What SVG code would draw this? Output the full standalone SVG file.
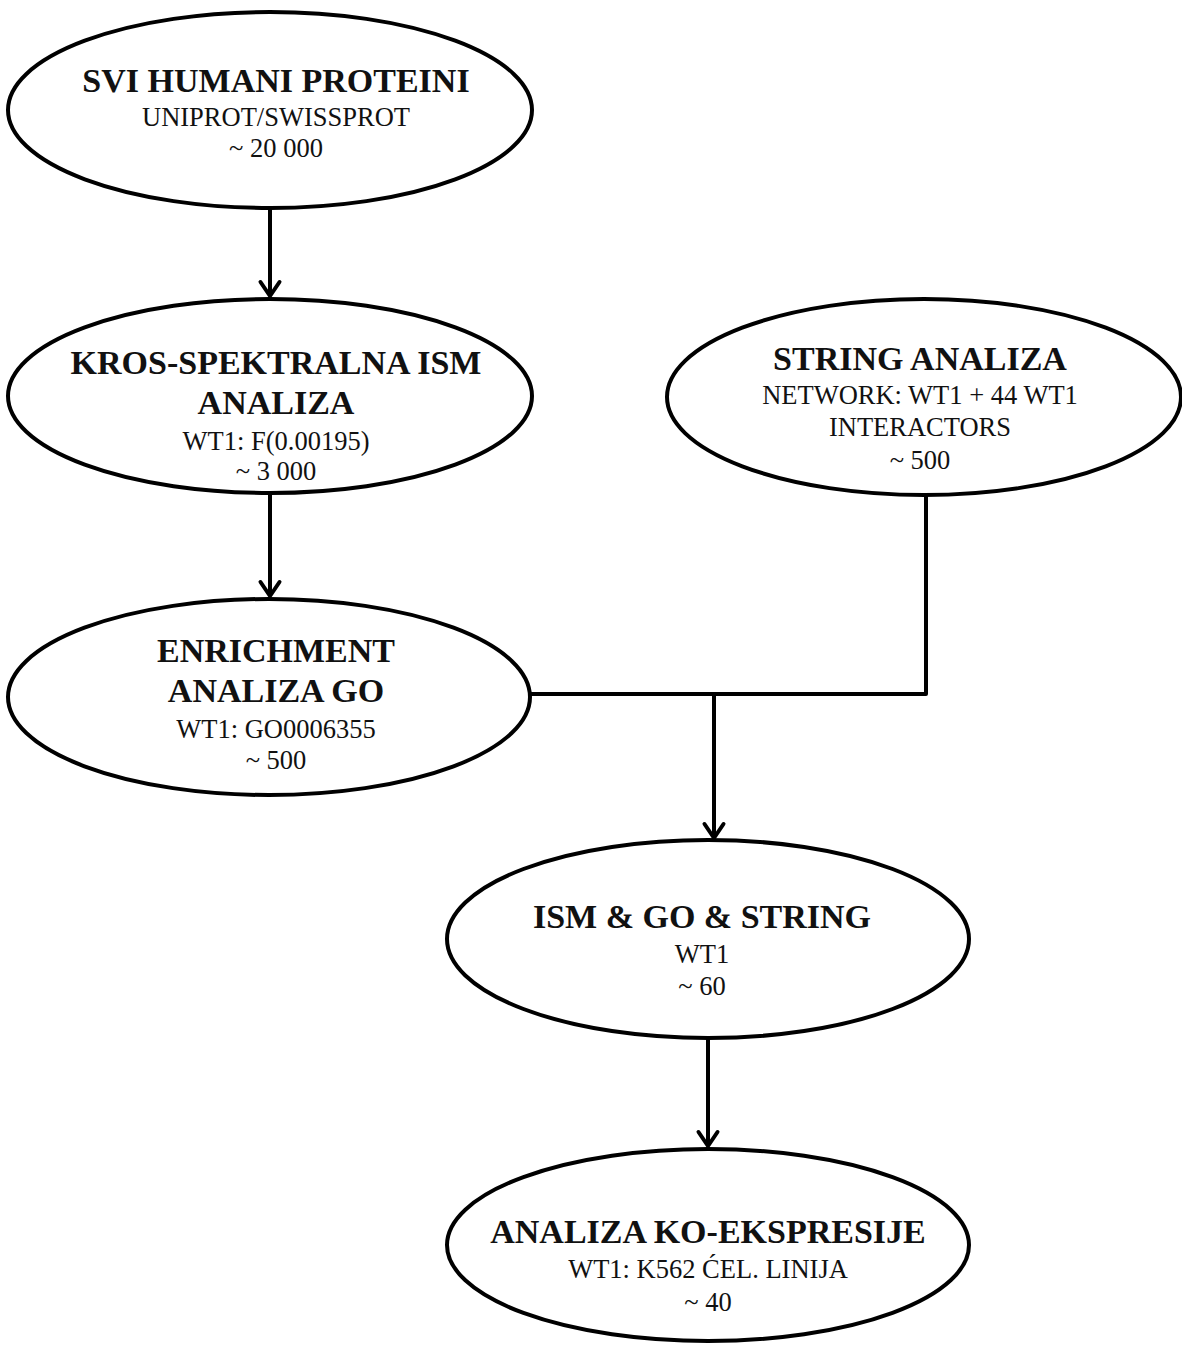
<svg xmlns="http://www.w3.org/2000/svg" width="1182" height="1346" viewBox="0 0 1182 1346">
<style>
.node ellipse{fill:#fff;stroke:#000;stroke-width:4}
.t{font-family:"Liberation Serif","Times New Roman",serif;font-weight:bold;font-size:34px;fill:#111;text-anchor:middle}
.s{font-family:"Liberation Serif","Times New Roman",serif;font-size:26.5px;fill:#111;text-anchor:middle}
.c{fill:none;stroke:#000;stroke-width:4;stroke-linejoin:round}
</style>
<defs>
<marker id="arr" markerUnits="userSpaceOnUse" markerWidth="30" markerHeight="30" viewBox="-20 -15 30 30" refX="0" refY="0" orient="auto">
<path d="M-14,-9.5 L0,0 L-14,9.5" fill="none" stroke="#000" stroke-width="4" stroke-linecap="round" stroke-linejoin="miter"/>
</marker>
</defs>
<g id="connectors">
<path class="c" d="M270,208 L270,296" marker-end="url(#arr)"/>
<path class="c" d="M270,493 L270,596" marker-end="url(#arr)"/>
<path class="c" d="M926,495 L926,694 L530,694"/>
<path class="c" d="M714,694 L714,838" marker-end="url(#arr)"/>
<path class="c" d="M708,1038 L708,1146" marker-end="url(#arr)"/>
</g>
<g id="n1" class="node">
<ellipse cx="270" cy="110" rx="262" ry="98"/>
<text class="t" x="276" y="92">SVI HUMANI PROTEINI</text>
<text class="s" x="276" y="126">UNIPROT/SWISSPROT</text>
<text class="s" x="276" y="157">~ 20 000</text>
</g>
<g id="n2" class="node">
<ellipse cx="270" cy="396" rx="262" ry="97"/>
<text class="t" x="276" y="374">KROS-SPEKTRALNA ISM</text>
<text class="t" x="276" y="414">ANALIZA</text>
<text class="s" x="276" y="450">WT1: F(0.00195)</text>
<text class="s" x="276" y="480">~ 3 000</text>
</g>
<g id="n3" class="node">
<ellipse cx="269" cy="697" rx="261" ry="98"/>
<text class="t" x="276" y="662">ENRICHMENT</text>
<text class="t" x="276" y="702">ANALIZA GO</text>
<text class="s" x="276" y="738">WT1: GO0006355</text>
<text class="s" x="276" y="769">~ 500</text>
</g>
<g id="n4" class="node">
<ellipse cx="924" cy="397" rx="257" ry="98"/>
<text class="t" x="920" y="370">STRING ANALIZA</text>
<text class="s" x="920" y="404">NETWORK: WT1 + 44 WT1</text>
<text class="s" x="920" y="436">INTERACTORS</text>
<text class="s" x="920" y="469">~ 500</text>
</g>
<g id="n5" class="node">
<ellipse cx="708" cy="939" rx="261" ry="99"/>
<text class="t" x="702" y="928">ISM &amp; GO &amp; STRING</text>
<text class="s" x="702" y="963">WT1</text>
<text class="s" x="702" y="995">~ 60</text>
</g>
<g id="n6" class="node">
<ellipse cx="708" cy="1245" rx="261" ry="96"/>
<text class="t" x="708" y="1243">ANALIZA KO-EKSPRESIJE</text>
<text class="s" x="708" y="1278">WT1: K562 ĆEL. LINIJA</text>
<text class="s" x="708" y="1311">~ 40</text>
</g>
</svg>
